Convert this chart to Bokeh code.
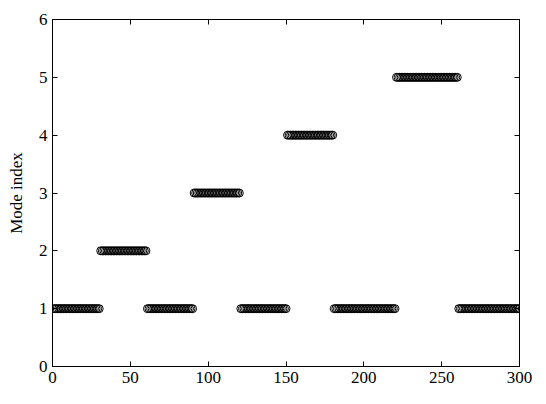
from bokeh.plotting import figure
from bokeh.embed import file_html
from bokeh.resources import INLINE
from bokeh.models import LinearAxis, FixedTicker, Range1d

# segments: (start sample, end sample, mode index)
seg_starts = [1, 31, 61, 91, 121, 151, 181, 221, 261]
seg_ends = [30, 60, 90, 120, 150, 180, 220, 260, 300]
seg_modes = [1, 2, 1, 3, 1, 4, 1, 5, 1]

x_ticks = [0, 50, 100, 150, 200, 250, 300]
y_ticks = [0, 1, 2, 3, 4, 5, 6]

xs, ys = [], []
for s, e, m in zip(seg_starts, seg_ends, seg_modes):
    for i in range(s, e + 1):
        xs.append(i)
        ys.append(m)

FONT = "'Liberation Serif', 'Times New Roman', serif"

p = figure(width=538, height=396, output_backend="svg", toolbar_location=None,
           x_range=Range1d(0, 300), y_range=Range1d(0, 6),
           x_axis_location=None, y_axis_location=None,
           min_border_left=52, min_border_right=19, min_border_top=19, min_border_bottom=30)
p.outline_line_color = "black"
p.outline_line_width = 1
p.grid.visible = False
p.background_fill_color = "white"
p.border_fill_color = "white"

p.scatter(xs, ys, marker="circle", size=8, fill_color=None, line_color="black", line_width=1)

def make_axis(ticks, labels=True, label=None):
    ax = LinearAxis(ticker=FixedTicker(ticks=ticks))
    ax.major_tick_in = 5
    ax.major_tick_out = 0
    ax.minor_tick_in = 0
    ax.minor_tick_out = 0
    ax.axis_line_color = "black"
    ax.major_tick_line_color = "black"
    ax.major_label_text_font = FONT
    ax.major_label_text_font_size = "17px"
    ax.major_label_text_color = "black"
    ax.major_label_standoff = 5
    if not labels:
        ax.major_label_text_color = None
        ax.major_label_text_font_size = "0px"
        ax.major_label_standoff = 0
    if label:
        ax.axis_label = label
        ax.axis_label_text_font = FONT
        ax.axis_label_text_font_size = "17px"
        ax.axis_label_text_font_style = "normal"
        ax.axis_label_text_color = "black"
        ax.axis_label_standoff = 10
    return ax

p.add_layout(make_axis(x_ticks), "below")
p.add_layout(make_axis(y_ticks, label="Mode index"), "left")
p.add_layout(make_axis(x_ticks, labels=False), "above")
p.add_layout(make_axis(y_ticks, labels=False), "right")

open("out.html", "w").write(file_html(p, INLINE))
